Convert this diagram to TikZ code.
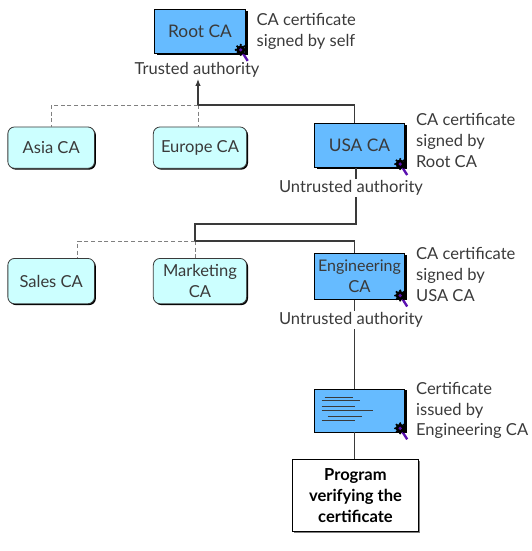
\documentclass[tikz,border=0pt]{standalone}
\usepackage{fontspec}
\setmainfont{Lato}
\usepackage{xcolor}
\usetikzlibrary{arrows.meta,positioning,shadows}
\definecolor{certblue}{HTML}{66BBFF}
\definecolor{cacyan}{HTML}{CCFFFF}
\definecolor{inkgray}{HTML}{3A3A3A}
\definecolor{sealpurple}{HTML}{5A10B0}

\begin{document}
\begin{tikzpicture}[
    x=.75pt, y=.75pt,
    every node/.style={text=inkgray, font=\fontsize{12.4}{15.6}\selectfont},
    certbox/.style={draw=black, line width=.6pt, minimum height=33pt, minimum width=68pt, align=center, fill=certblue, inner sep=1pt,
        drop shadow={shadow xshift=1.8pt, shadow yshift=-.8pt, fill=black, opacity=1}},
    cabox/.style={draw=inkgray, line width=.6pt, rounded corners=5pt, minimum height=31pt, align=center, fill=cacyan, inner sep=1pt,
        drop shadow={shadow xshift=1pt, shadow yshift=-1pt, fill=black, opacity=1}},
    note/.style={align=left, inner sep=0pt},
    authority/.style={inner sep=1pt},
    link/.style={draw=inkgray, line width=.8pt},
    weak/.style={draw=gray, line width=.6pt, densely dashed},
    seal/.pic={
        \draw[sealpurple, line width=1.8pt] (-5,4) -- (2,-7);
        \fill[black] (-5,4) circle (4.6);
        \foreach \a in {0,45,...,315} \fill[black] (-5,4) ++(\a:5) circle (1.2);
        \fill[sealpurple] (-5,4) circle (1.8);
    }
]
\useasboundingbox (0,0) rectangle (532,-551);

\node[certbox] (root) at (200,-31.5) {\fontsize{13}{15.6}\selectfont Root CA};
\node[cabox, minimum width=70pt, below=54.5pt of root] (europe) {Europe CA};
\node[cabox, minimum width=65pt, left=43.5pt of europe] (asia) {Asia CA};
\node[certbox, right=50pt of europe, yshift=1.5pt] (usa) {\fontsize{13}{15.6}\selectfont USA CA};
\node[cabox, minimum width=65pt, minimum height=34pt, below=67pt of asia] (sales) {Sales CA};
\node[cabox, minimum width=70pt, minimum height=34pt, below=67pt of europe] (marketing) {Marketing\\CA};
\node[certbox, minimum height=34pt, below=64pt of usa] (engineering) {\fontsize{12}{15.6}\selectfont Engineering\\CA};
\node[certbox, minimum height=32pt, below=67pt of engineering] (cert) {};
\node[draw=black, line width=.8pt, fill=white, minimum width=94.5pt, minimum height=54pt, align=center, inner sep=1pt, text=black,
    font=\fontsize{12.4}{15.6}\selectfont\bfseries, below=20pt of cert, xshift=-3pt,
    drop shadow={shadow xshift=1pt, shadow yshift=-1pt, fill=gray, opacity=1}] (program) {Program\\verifying the\\certificate};

\node[note, right=8pt of root] (rootnote) {CA certificate\\signed by self};
\node[note, right=8pt of usa, yshift=4pt] (usanote) {CA certificate\\signed by\\Root CA};
\node[note, right=8pt of engineering, yshift=1.5pt] (engnote) {CA certificate\\signed by\\USA CA};
\node[note, right=8pt of cert] (certnote) {Certificate\\issued by\\Engineering CA};

\node[authority] (trusted) at (197,-70) {Trusted authority};
\node[authority] (untrustedusa) at (351,-188) {Untrusted authority};
\node[authority] (untrustedeng) at (351,-320) {Untrusted authority};

\coordinate (rootjoin) at (198,-105);
\coordinate (usaturn) at (356,-224);
\coordinate (usajoin) at (195,-224);
\coordinate (engjoin) at (195,-241);

% dashed branches first
\draw[weak] (rootjoin) -- (rootjoin |- europe.north);
\draw[weak] (rootjoin) -| (asia.north);
\draw[weak] (engjoin) -- (engjoin |- marketing.north);
\draw[weak] (engjoin) -| ([xshift=20pt]sales.north);

\draw[link, -{Latex[length=5pt,width=4pt]}] (rootjoin) -- (rootjoin |- trusted.south);
\draw[link] (rootjoin) -| ([xshift=-4pt]usa.north);
\draw[link] (usaturn |- usa.south) -- (usaturn |- untrustedusa.north);
\draw[link] (usaturn |- untrustedusa.south) -- (usaturn) -- (usajoin) -- (engjoin);
\draw[link] (engjoin) -| ([xshift=-3.5pt]engineering.north);
\draw[link] ([xshift=-3.5pt]engineering.south) -- ([xshift=-3.5pt]engineering.south |- untrustedeng.north);
\draw[link] ([xshift=-3.5pt]engineering.south |- untrustedeng.south) -- ([xshift=-3.5pt]cert.north);
\draw[link] ([xshift=-3.5pt]cert.south) -- ([xshift=-3.5pt]cert.south |- program.north);

% text lines on the certificate
\foreach \xa/\xb/\ya in {11/39/9, 8/46/12, 8/41/18, 8/59/22, 14/48/28, 8/41/32}
    \draw[inkgray, line width=.6pt] ([shift={(\xa,-\ya)}]cert.north west) -- ([shift={(\xb,-\ya)}]cert.north west);

\foreach \n in {root,usa,engineering,cert}
    \pic at (\n.south east) {seal};

\end{tikzpicture}
\end{document}
